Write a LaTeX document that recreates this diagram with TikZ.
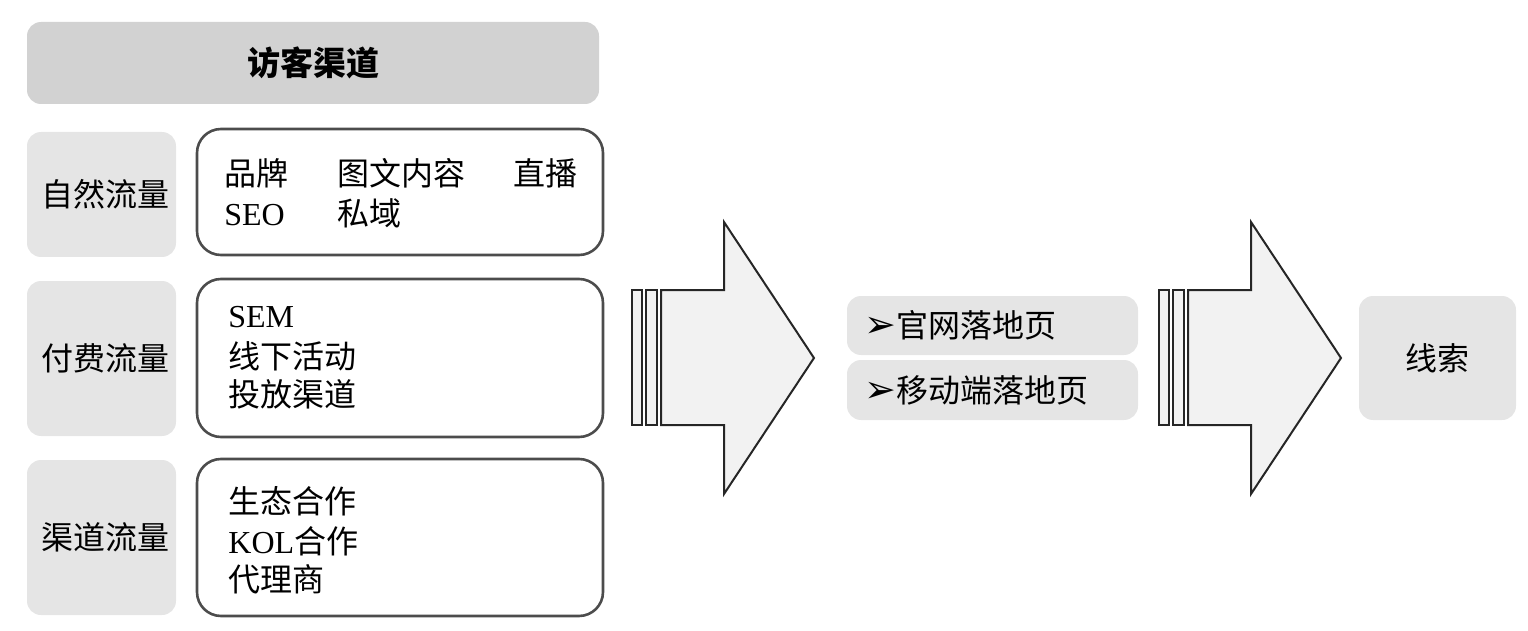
\documentclass[tikz,border=0pt]{standalone}
\usepackage{fontspec}
\setmainfont{Liberation Serif}
\newfontfamily\cjk{Noto Sans CJK SC}
\newfontfamily\symfont{DejaVu Sans}

\begin{document}
\begin{tikzpicture}[x=0.5pt,y=-0.5pt,
    txt/.style={font=\fontsize{16}{19}\selectfont, inner sep=0pt},
    titlebox/.style={fill=gray!35, rounded corners=7pt, inner sep=0pt},
    greybox/.style={fill=gray!20, rounded corners=7pt, inner sep=0pt, font=\fontsize{16}{19}\selectfont\cjk},
    linebox/.style={draw=black!70, line width=1.3pt, rounded corners=12pt, fill=white, inner sep=0pt},
    flowarrow/.style={draw=black!85, line width=1pt, fill=gray!10}]
        \useasboundingbox (0,0) rectangle (1528,631);

        % visitor channels
        \node[titlebox, minimum width=286pt, minimum height=41pt] (title) at (313,63) {\fontsize{16.5}{19}\selectfont\cjk\bfseries 访客渠道};

        \node[greybox, minimum width=74.5pt, minimum height=62.5pt] (natural) at (101.5,194.5) {\hspace{4pt}自然流量};
        \node[greybox, minimum width=74.5pt, minimum height=77.5pt] (paid) at (101.5,358.5) {\hspace{4pt}付费流量};
        \node[greybox, minimum width=74.5pt, minimum height=77.5pt] (channel) at (101.5,537.5) {\hspace{4pt}渠道流量};

        \node[linebox, minimum width=203pt, minimum height=63pt] (naturalbox) at (400,192) {};
        \node[linebox, minimum width=203pt, minimum height=79pt] (paidbox) at (400,358) {};
        \node[linebox, minimum width=203pt, minimum height=78.5pt] (channelbox) at (400,537.5) {};

        \node[txt, anchor=base west] (brand) at (224,186) {\cjk 品牌};
        \node[txt, anchor=base west] (content) at (337,186) {\cjk 图文内容};
        \node[txt, anchor=base west] (live) at (513,186) {\cjk 直播};
        \node[txt, anchor=base west] (seo) at (224,226) {SEO};
        \node[txt, anchor=base west] (private) at (337,226) {\cjk 私域};

        \node[txt, anchor=base west] (sem) at (228,328) {SEM};
        \node[txt, anchor=base west] (offline) at (228,368) {\cjk 线下活动};
        \node[txt, anchor=base west] (ads) at (228,406) {\cjk 投放渠道};

        \node[txt, anchor=base west] (eco) at (228,513) {\cjk 生态合作};
        \node[txt, anchor=base west] (kol) at (228,553) {KOL{\cjk 合作}};
        \node[txt, anchor=base west] (agent) at (228,591) {\cjk 代理商};

        % first arrow
        \draw[flowarrow] (632,290) rectangle (642,425);
        \draw[flowarrow] (646,290) rectangle (657,425);
        \draw[flowarrow] (661,290) -- (724,290) -- (724,222) -- (814,358) -- (724,494) -- (724,425) -- (661,425) -- cycle;

        % landing pages
        \node[greybox, minimum width=145.5pt, minimum height=29.5pt] (webbox) at (992.5,325.5) {};
        \node[greybox, minimum width=145.5pt, minimum height=30pt] (mobilebox) at (992.5,390) {};
        \node[txt, anchor=west] (web) at (864,325.5) {{\symfont\fontsize{19}{19}\selectfont ➢}{\cjk 官网落地页}};
        \node[txt, anchor=west] (mobile) at (864,390) {{\symfont\fontsize{19}{19}\selectfont ➢}{\cjk 移动端落地页}};

        % second arrow
        \draw[flowarrow] (1159,290) rectangle (1169,425);
        \draw[flowarrow] (1173,290) rectangle (1184,425);
        \draw[flowarrow] (1188,290) -- (1251,290) -- (1251,222) -- (1341,358) -- (1251,494) -- (1251,425) -- (1188,425) -- cycle;

        \node[greybox, minimum width=78.5pt, minimum height=62pt] (leads) at (1437.5,358) {线索};

    \end{tikzpicture}
\end{document}
